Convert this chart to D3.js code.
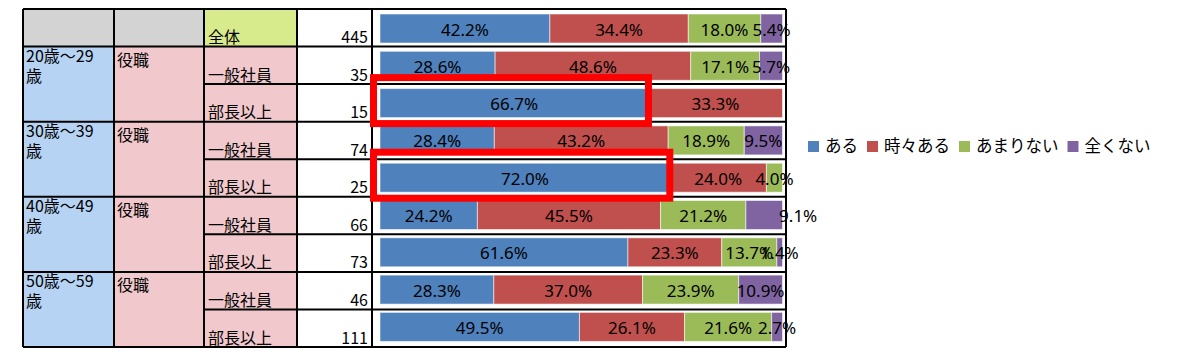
<!DOCTYPE html>
<html><head><meta charset="utf-8">
<script src="https://cdn.jsdelivr.net/npm/d3@7/dist/d3.min.js"></script>
<style>html,body{margin:0;padding:0;background:#fff;} svg{display:block;}</style>
</head><body><svg id="c" width="1203" height="356"></svg>
<script>
// ---- data ----
const groups = ["20歳～29歳", "30歳～39歳", "40歳～49歳", "50歳～59歳"];
const roleHeader = "役職";
const rowLabels = ["全体", "一般社員", "部長以上", "一般社員", "部長以上", "一般社員", "部長以上", "一般社員", "部長以上"];
const counts = [445, 35, 15, 74, 25, 66, 73, 46, 111];
const seriesNames = ["ある", "時々ある", "あまりない", "全くない"];
const aru      = [42.2, 28.6, 66.7, 28.4, 72.0, 24.2, 61.6, 28.3, 49.5];
const tokidoki = [34.4, 48.6, 33.3, 43.2, 24.0, 45.5, 23.3, 37.0, 26.1];
const amari    = [18.0, 17.1, 0.0, 18.9, 4.0, 21.2, 13.7, 23.9, 21.6];
const zenku    = [5.4, 5.7, 0.0, 9.5, 0.0, 9.1, 1.4, 10.9, 2.7];
const highlightRows = [2, 4];

// ---- style / layout ----
const colors = ["#4f81bd", "#c0504d", "#9bbb59", "#8064a2"];
const colEdges = [23, 114, 204, 297, 372, 786];
const cjk = "'Noto Sans CJK JP', 'Noto Sans CJK SC', sans-serif";
const labelNudge = {"5|全くない": 34};

const svg = d3.select("#c");
const nRows = rowLabels.length;
const yT = d3.scaleBand().domain(d3.range(nRows)).range([9, 347]).padding(0);
const yB = d3.scaleBand().domain(d3.range(nRows)).range([9.85, 345.55]).paddingInner(0.2225).paddingOuter(0.11125);
const x = d3.scaleLinear().domain([0, 1]).range([380, 782.5]);

const seriesArrays = [aru, tokidoki, amari, zenku];
const rows = d3.range(nRows).map(i => {
  const o = {i};
  seriesNames.forEach((s, k) => o[s] = seriesArrays[k][i]);
  return o;
});

// ---- table backgrounds ----
const bg = svg.append("g");
const rT = i => yT(i), rB = i => yT(i) + yT.bandwidth();
bg.append("rect").attr("x", colEdges[0]).attr("y", rT(0)).attr("width", colEdges[2]-colEdges[0]).attr("height", yT.bandwidth()).attr("fill", "#d3d3d3");
bg.append("rect").attr("x", colEdges[2]).attr("y", rT(0)).attr("width", colEdges[3]-colEdges[2]).attr("height", yT.bandwidth()).attr("fill", "#d8eb8c");
groups.forEach((g, gi) => {
  const r0 = 1 + gi*2, r1 = r0 + 1;
  bg.append("rect").attr("x", colEdges[0]).attr("y", rT(r0)).attr("width", colEdges[1]-colEdges[0]).attr("height", rB(r1)-rT(r0)).attr("fill", "#b6d3f3");
  bg.append("rect").attr("x", colEdges[1]).attr("y", rT(r0)).attr("width", colEdges[3]-colEdges[1]).attr("height", rB(r1)-rT(r0)).attr("fill", "#f1c9cd");
});

// ---- grid lines ----
const grid = svg.append("g").attr("stroke", "#000").attr("stroke-width", 2);
colEdges.forEach(cx => grid.append("line").attr("x1", cx).attr("x2", cx).attr("y1", rT(0)).attr("y2", rB(nRows-1)));
d3.range(nRows + 1).forEach(i => {
  const yy = i < nRows ? rT(i) : rB(nRows-1);
  const full = (i === 0 || i === nRows || (i % 2 === 1));
  grid.append("line").attr("x1", full ? colEdges[0] : colEdges[2]).attr("x2", colEdges[5]).attr("y1", yy).attr("y2", yy);
});

// ---- table text ----
const tt = svg.append("g").attr("font-family", cjk).attr("font-size", 16).attr("fill", "#000");
groups.forEach((g, gi) => {
  const r0 = 1 + gi*2;
  const probe = tt.append("text").attr("x", -999).attr("y", -999);
  const chars = Array.from(g);
  let lines = [], cur = "";
  chars.forEach(ch => {
    probe.text(cur + ch);
    if (probe.node().getComputedTextLength() > 78 && cur) { lines.push(cur); cur = ch; } else cur += ch;
  });
  lines.push(cur);
  probe.remove();
  lines.forEach((ln, li) => tt.append("text").attr("x", colEdges[0] + 3).attr("y", rT(r0) + 15 + li*20).text(ln));
  tt.append("text").attr("x", colEdges[1] + 3).attr("y", rT(r0) + 19).text(roleHeader);
});
rowLabels.forEach((lab, i) => {
  tt.append("text").attr("x", colEdges[2] + 4).attr("y", rB(i) - 3.5).text(lab);
  tt.append("text").attr("x", colEdges[4] - 4).attr("y", rB(i) - 3.5).attr("text-anchor", "end").text(counts[i]);
});

// ---- bars ----
const stack = d3.stack().keys(seriesNames).offset(d3.stackOffsetExpand);
const stacked = stack(rows);
const bars = svg.append("g");
stacked.forEach((layer, k) => {
  bars.selectAll(null).data(layer.filter(d => d.data[seriesNames[k]] > 0)).join("rect")
    .attr("x", d => x(d[0])).attr("width", d => x(d[1]) - x(d[0]))
    .attr("y", d => yB(d.data.i)).attr("height", yB.bandwidth())
    .attr("fill", colors[k]).attr("stroke", "rgba(255,255,255,0.55)").attr("stroke-width", 1);
});
const labs = svg.append("g").attr("font-family", "'Noto Sans', 'Open Sans', sans-serif").attr("font-size", 17).attr("fill", "#000").attr("text-anchor", "middle");
stacked.forEach((layer, k) => {
  layer.forEach(d => {
    const v = d.data[seriesNames[k]];
    if (!(v > 0)) return;
    const nudge = labelNudge[d.data.i + "|" + seriesNames[k]] || 0;
    labs.append("text")
      .attr("x", x((d[0] + d[1]) / 2) + nudge)
      .attr("y", yB(d.data.i) + yB.bandwidth()/2 + 7)
      .text(d3.format(".1f")(v) + "%");
  });
});

// ---- highlight boxes ----
highlightRows.forEach(i => {
  const d = stacked[0][i];
  const y0 = yB(i) - 11, y1 = yB(i) + yB.bandwidth() + 6;
  svg.append("rect").attr("x", x(0) - 6.5).attr("y", y0).attr("width", x(d[1]) - x(0) + 6.5).attr("height", y1 - y0)
    .attr("fill", "none").attr("stroke", "#ff0000").attr("stroke-width", 7);
});

// ---- legend ----
const leg = svg.append("g").attr("font-family", cjk).attr("font-size", 16.5);
let lx = 808;
seriesNames.forEach((s, k) => {
  leg.append("rect").attr("x", lx).attr("y", 141).attr("width", 11).attr("height", 11).attr("fill", colors[k]);
  const t = leg.append("text").attr("x", lx + 17).attr("y", 151.5).text(s);
  lx = lx + 17 + t.node().getComputedTextLength() + 9;
});
</script></body></html>
